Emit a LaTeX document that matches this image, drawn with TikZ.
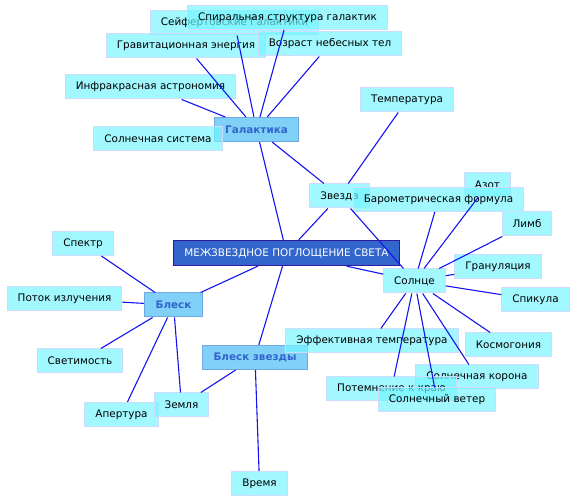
\documentclass[tikz,border=0pt]{standalone}
\usepackage{fontspec}
\setmainfont{DejaVu Sans}
\usepackage{tikz}
\usetikzlibrary{positioning}
\definecolor{leafcolor}{RGB}{116,245,255}
\definecolor{leafline}{RGB}{205,220,250}
\definecolor{topiccolor}{RGB}{128,208,248}
\definecolor{topicline}{RGB}{112,168,228}
\definecolor{topictext}{RGB}{50,100,205}
\definecolor{rootcolor}{RGB}{51,102,204}
\definecolor{rootline}{RGB}{48,24,160}
\definecolor{linkcolor}{RGB}{20,20,240}

\begin{document}
\begin{tikzpicture}[x=1pt, y=-1pt,
    font=\fontsize{10.4}{12}\selectfont,
    leaf/.style={draw=leafline, line width=1pt, fill=leafcolor, fill opacity=0.68,
                 text opacity=1, inner xsep=10.5pt, inner ysep=0pt, minimum height=24pt},
    topic/.style={draw=topicline, line width=1pt, fill=topiccolor, text=topictext,
                  font=\fontsize{10.4}{12}\selectfont\bfseries,
                  inner xsep=11pt, inner ysep=0pt, minimum height=24pt},
    root/.style={draw=rootline, line width=1.3pt, fill=rootcolor, text=white,
                  inner xsep=11pt, inner ysep=0pt, minimum height=25pt},
    link/.style={linkcolor, line width=1.1pt}]
    \useasboundingbox (0,0) rectangle (576,502);
    % --- Galaxy group ---
    \node[leaf] (seyfert) at (234.5,23) {Сейфертовские Галактики};
    \node[leaf] (spiral) at (287.5,17.5) {Спиральная структура галактик};
    \node[leaf] (grav) at (186,46) {Гравитационная энергия};
    \node[leaf] (age) at (330,44) {Возраст небесных тел};
    \node[leaf] (infra) at (150.5,87) {Инфракрасная астрономия};
    \node[topic] (galaxy) at (256.5,129.5) {Галактика};
    \node[leaf] (solsys) at (158,139) {Солнечная система};
    % --- Star and Sun group ---
    \node[leaf] (temp) at (407,100) {Температура};
    \node[leaf] (star) at (339.5,196) {Звезда};
    \node[leaf] (nitro) at (487.5,185) {Азот};
    \node[leaf] (baro) at (438.5,199.5) {Барометрическая формула};
    \node[leaf] (limb) at (527,224) {Лимб};
    \node[root] (root) at (286.5,253) {МЕЖЗВЕЗДНОЕ ПОГЛОЩЕНИЕ СВЕТА};
    \node[leaf] (gran) at (498,267) {Грануляция};
    \node[leaf] (sun) at (414.5,281) {Солнце};
    \node[leaf] (spic) at (535.5,300) {Спикула};
    \node[topic] (starbright) at (255,357.5) {Блеск звезды};
    \node[leaf] (efftemp) at (372,341) {Эффективная температура};
    \node[leaf] (cosmo) at (508.5,345) {Космогония};
    \node[leaf] (corona) at (477,377) {Солнечная корона};
    \node[leaf] (darken) at (391.5,389) {Потемнение к краю};
    \node[leaf] (wind) at (437,400) {Солнечный ветер};
    % --- Brightness group ---
    \node[leaf] (spectrum) at (83,243.5) {Спектр};
    \node[leaf] (flux) at (64.5,299) {Поток излучения};
    \node[topic] (bright) at (173.5,305) {Блеск};
    \node[leaf] (lum) at (80,361) {Светимость};
    \node[leaf] (aperture) at (121.5,414.5) {Апертура};
    \node[leaf] (earth) at (181.5,405) {Земля};
    \node[leaf] (time) at (259.5,483.5) {Время};
    % --- links ---
    \foreach \leafname in {seyfert,spiral,grav,age,infra,star}
      \draw[link] (galaxy) -- (\leafname);
    \draw[link] (galaxy) -- (root);
    \draw[link] (temp) -- (star);
    \draw[link] (star) -- (root);
    \draw[link] (star) -- (sun);
    \foreach \leafname in {baro,nitro,limb,gran,spic,cosmo,corona,wind,darken,efftemp,root}
      \draw[link] (sun) -- (\leafname);
    \draw[link] (root) -- (bright);
    \draw[link] (root) -- (starbright);
    \foreach \leafname in {spectrum,flux,lum,aperture,earth}
      \draw[link] (bright) -- (\leafname);
    \draw[link] (starbright) -- (earth);
    \draw[link] (starbright) -- (time);
\end{tikzpicture}
\end{document}
